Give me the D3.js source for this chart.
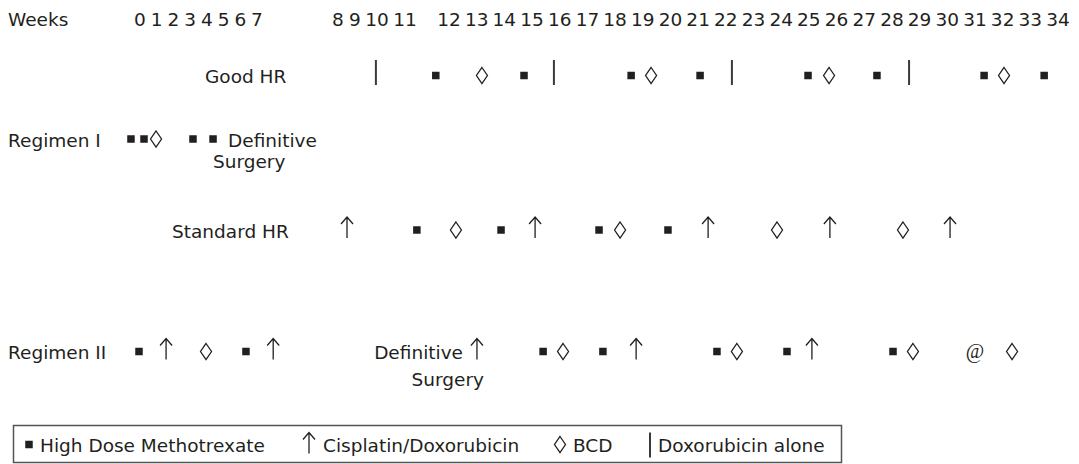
<!DOCTYPE html>
<html><head><meta charset="utf-8">
<script src="https://cdn.jsdelivr.net/npm/d3@7/dist/d3.min.js"></script>
<style>body{margin:0;background:#fff}text{font-family:"DejaVu Sans",sans-serif;fill:#231f20}</style>
</head><body>
<svg id="c" width="1079" height="464"></svg>
<script>
// ---- data (weeks) ----
const weekLabels = [0,1,2,3,4,5,6,7,8,9,10,11,12,13,14,15,16,17,18,19,20,21,22,23,24,25,26,27,28,29,30,31,32,33,34];
const rowNames = ["Good HR","Regimen I","Standard HR","Regimen II"];

const goodHRDox = [9.95, 15.79, 22.22, 28.62];
const goodHRMtx = [11.70, 14.71, 18.58, 21.07, 24.97, 27.46, 31.33, 33.50];
const goodHRBcd = [13.19, 19.30, 25.73, 32.05];

const regIMtx = [-0.54, 0.24, 3.17, 4.37];
const regIBcd = [0.96];

const stdHRCis = [8.53, 15.11, 21.36, 25.76, 30.10];
const stdHRMtx = [11.27, 13.88, 17.42, 19.91];
const stdHRBcd = [12.25, 18.18, 23.85, 28.40];

const regIIMtx = [-0.06, 6.34, 15.40, 17.56, 21.68, 24.21, 28.04];
const regIICis = [1.56, 7.20, 13.01, 18.76, 25.11];
const regIIBcd = [3.95, 16.12, 22.40, 28.76, 32.34];
const regIIAt  = [31.00];

const legendItems = ["High Dose Methotrexate","Cisplatin/Doxorubicin","BCD","Doxorubicin alone"];
const legendKinds = ["mtx","cis","bcd","dox"];

// ---- layout ----
const svg = d3.select("#c");
const FS = 18.5;
const INK = "#231f20";
// week axis: typeset irregularly in the original, so a piecewise scale
const x = d3.scaleLinear()
  .domain([0,7,8,9,10,11,12,34])
  .range([140,257,338,355,377,405,449,1058]);
const y = d3.scaleOrdinal().domain(rowNames).range([75.5,139,230,351.5]);

// header
svg.append("text").attr("x",8).attr("y",26).attr("font-size",FS).text("Weeks");
svg.append("g").selectAll("text").data(weekLabels).join("text")
  .attr("x",d=>x(d)).attr("y",26).attr("text-anchor","middle").attr("font-size",FS).text(d=>d);

// symbol drawers
function drawMarks(g, kind, vals, cy, xs){
  const X = xs || (d=>x(d));
  if(kind==="mtx"){
    g.selectAll(null).data(vals).join("rect")
      .attr("x",d=>X(d)-3.75).attr("y",cy-3.75).attr("width",7.5).attr("height",7.5).attr("fill",INK);
  } else if(kind==="bcd"){
    g.selectAll(null).data(vals).join("path")
      .attr("d",d=>{const c=X(d);return `M${c},${cy-8}L${c+5.5},${cy}L${c},${cy+8}L${c-5.5},${cy}Z`;})
      .attr("fill","none").attr("stroke",INK).attr("stroke-width",1.3);
  } else if(kind==="cis"){
    g.selectAll(null).data(vals).join("path")
      .attr("d",d=>{const c=X(d);return `M${c},${cy+8}V${cy-13}M${c-6},${cy-6}L${c},${cy-13}L${c+6},${cy-6}`;})
      .attr("fill","none").attr("stroke",INK).attr("stroke-width",1.3);
  } else if(kind==="dox"){
    g.selectAll(null).data(vals).join("line")
      .attr("x1",d=>X(d)).attr("x2",d=>X(d)).attr("y1",cy-15.5).attr("y2",cy+9.5)
      .attr("stroke","#3a3a3a").attr("stroke-width",2);
  } else if(kind==="at"){
    g.selectAll(null).data(vals).join("text")
      .attr("x",d=>X(d)).attr("y",cy+6).attr("text-anchor","middle")
      .style("font-family","'Liberation Serif',serif").attr("font-size",20).text("@");
  }
}

const marks = svg.append("g");
// Good HR
let cy = y("Good HR");
svg.append("text").attr("x",205).attr("y",cy+7.5).attr("font-size",FS).text("Good HR");
drawMarks(marks.append("g"),"dox",goodHRDox,cy);
drawMarks(marks.append("g"),"mtx",goodHRMtx,cy);
drawMarks(marks.append("g"),"bcd",goodHRBcd,cy);

// Regimen I
cy = y("Regimen I");
svg.append("text").attr("x",8).attr("y",cy+7.5).attr("font-size",FS).text("Regimen I");
drawMarks(marks.append("g"),"mtx",regIMtx,cy);
drawMarks(marks.append("g"),"bcd",regIBcd,cy);
svg.append("text").attr("x",228).attr("y",cy+7.5).attr("font-size",FS).text("Definitive");
svg.append("text").attr("x",213).attr("y",cy+29).attr("font-size",FS).text("Surgery");

// Standard HR
cy = y("Standard HR");
svg.append("text").attr("x",172).attr("y",cy+7.5).attr("font-size",FS).text("Standard HR");
drawMarks(marks.append("g"),"cis",stdHRCis,cy);
drawMarks(marks.append("g"),"mtx",stdHRMtx,cy);
drawMarks(marks.append("g"),"bcd",stdHRBcd,cy);

// Regimen II
cy = y("Regimen II");
svg.append("text").attr("x",8).attr("y",cy+7.5).attr("font-size",FS).text("Regimen II");
drawMarks(marks.append("g"),"mtx",regIIMtx,cy);
drawMarks(marks.append("g"),"cis",regIICis,cy);
drawMarks(marks.append("g"),"bcd",regIIBcd,cy);
drawMarks(marks.append("g"),"at",regIIAt,cy);
svg.append("text").attr("x",463).attr("y",cy+7.5).attr("text-anchor","end").attr("font-size",FS).text("Definitive");
svg.append("text").attr("x",484).attr("y",cy+34).attr("text-anchor","end").attr("font-size",FS).text("Surgery");

// legend
const lg = svg.append("g");
lg.append("rect").attr("x",13.5).attr("y",425.5).attr("width",828).attr("height",37)
  .attr("fill","none").attr("stroke","#555").attr("stroke-width",1.5);
const lcy = 444.5;
const legSymX = [29, 309, 560, 650];
const legTxtX = [40, 323, 573, 658];
legendItems.forEach((t,i)=>{
  const kind = legendKinds[i];
  const g = lg.append("g");
  if(kind==="dox"){
    g.append("line").attr("x1",legSymX[i]).attr("x2",legSymX[i]).attr("y1",lcy-12).attr("y2",lcy+13)
      .attr("stroke","#3a3a3a").attr("stroke-width",2);
  } else if(kind==="cis"){
    g.append("path").attr("d",`M${legSymX[i]},${lcy+9}V${lcy-12}M${legSymX[i]-6},${lcy-5}L${legSymX[i]},${lcy-12}L${legSymX[i]+6},${lcy-5}`)
      .attr("fill","none").attr("stroke",INK).attr("stroke-width",1.3);
  } else {
    drawMarks(g, kind, [0], lcy, ()=>legSymX[i]);
  }
  lg.append("text").attr("x",legTxtX[i]).attr("y",lcy+7.5).attr("font-size",FS).text(t);
});
</script>
</body></html>
